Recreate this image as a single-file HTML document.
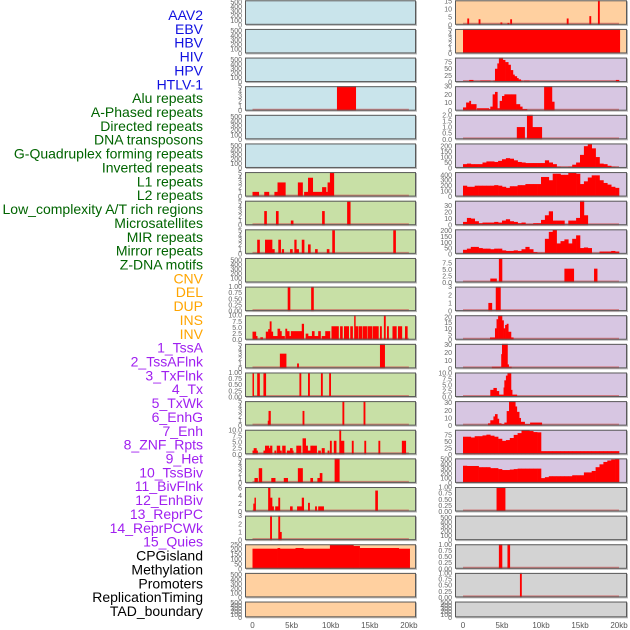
<!DOCTYPE html>
<html><head><meta charset="utf-8"><title>Track panels</title>
<style>
html,body{margin:0;padding:0;background:#fff;}
svg{display:block;font-family:"Liberation Sans",sans-serif;}
</style></head>
<body>
<svg id="chart" width="630" height="630" viewBox="0 0 630 630" xmlns="http://www.w3.org/2000/svg"></svg>
<script>
// ---------- category labels ----------
const trackLabels = ["AAV2","EBV","HBV","HIV","HPV","HTLV-1","Alu repeats","A-Phased repeats","Directed repeats","DNA transposons","G-Quadruplex forming repeats","Inverted repeats","L1 repeats","L2 repeats","Low_complexity A/T rich regions","Microsatellites","MIR repeats","Mirror repeats","Z-DNA motifs","CNV","DEL","DUP","INS","INV","1_TssA","2_TssAFlnk","3_TxFlnk","4_Tx","5_TxWk","6_EnhG","7_Enh","8_ZNF_Rpts","9_Het","10_TssBiv","11_BivFlnk","12_EnhBiv","13_ReprPC","14_ReprPCWk","15_Quies","CPGisland","Methylation","Promoters","ReplicationTiming","TAD_boundary"];
const labelGroups = ["v","v","v","v","v","v","r","r","r","r","r","r","r","r","r","r","r","r","r","s","s","s","s","s","c","c","c","c","c","c","c","c","c","c","c","c","c","c","c","o","o","o","o","o"];
const xTickLabels = ["0","5kb","10kb","15kb","20kb"];
const xTickValues = [0,5,10,15,20];

// ---------- tick label sets ----------
const tEmpty = ["0","100","200","300","400","500"];
const t5 = ["0","1","2","3","4","5"];
const t1 = ["0.00","0.25","0.50","0.75","1.00"];
const t10 = ["0.0","2.5","5.0","7.5","10.0"];

// ---------- left column data: [startKb, endKb, value] ----------
const L3_bars = [[10.8,13.2,5]];
const L6_bars = [[0,0.8,1],[1.5,2.1,1],[2.8,3.2,1],[3.2,4.2,3],[5.8,6.4,3],[6.6,7.1,1],[7.1,7.7,4],[7.7,8.9,1],[8.9,9.4,2],[9.4,9.6,1],[9.6,9.9,3],[9.9,10.4,5]];
const L7_bars = [[1.5,1.8,3],[3.0,3.3,3],[4.9,5.2,1],[8.9,9.2,3],[12.1,12.5,5]];
const L8_bars = [[0.6,0.9,3],[1.6,2.5,3],[2.5,2.8,1],[3.3,3.6,3],[3.75,4.0,1],[4.8,5.1,1],[5.35,5.6,3],[5.6,5.9,1],[6.3,6.6,3],[7.1,7.4,2],[8.0,8.3,1],[9.5,9.8,1],[10.2,10.5,5],[18.0,18.3,5]];
const L10_bars = [[4.5,4.8,1],[7.5,7.8,1]];
const L11_bars = [[0,0.43,3.3],[0.43,0.6,1.5],[1.0,1.3,1],[1.7,2.0,3.3],[2.0,2.2,4.3],[2.2,2.4,7.5],[2.4,2.6,3.3],[2.6,3.2,1.5],[3.2,3.5,4.5],[3.5,3.7,3.5],[3.7,4.1,1.5],[4.2,4.4,4.5],[4.4,4.7,3.5],[4.7,4.9,1.5],[4.9,6.3,3.5],[6.3,6.55,6.5],[6.8,7.1,2.5],[7.1,7.6,1.5],[7.6,7.9,3.5],[7.9,8.4,1.5],[8.4,8.7,3.5],[8.85,9.3,1.5],[9.3,9.9,3.5],[10.1,11.0,5.5],[11.2,11.5,5.5],[11.7,12.3,5.5],[12.5,12.8,5.5],[13.0,13.15,10],[13.15,13.5,5.5],[13.6,14.0,5.5],[14.1,14.6,5.5],[14.7,15.3,5.5],[15.4,16.1,5.5],[16.3,16.5,5.5],[16.8,17.0,10],[17.2,17.4,5.5],[17.9,18.4,5.5],[18.6,19.1,5.5],[19.5,19.8,5.5]];
const L12_bars = [[3.5,4.3,3],[5.7,5.9,1],[16.3,16.9,5]];
const L13_bars = [[0,0.15,1],[0.6,0.9,1],[1.4,1.7,1],[6.0,6.2,1],[7.1,7.3,1],[8.75,8.95,1],[9.8,10.0,1]];
const L14_bars = [[1.95,2.05,1],[2.05,2.3,3],[6.4,6.6,3],[11.5,11.7,5],[14.2,14.4,5]];
const L15_bars = [[0,0.15,1.5],[0.15,0.5,2.5],[0.5,0.65,1.5],[1.4,1.6,1.5],[1.6,2.1,3.5],[2.1,2.25,2.5],[2.25,2.5,3.5],[2.8,3.0,1.5],[3.1,3.5,3.5],[3.5,3.7,1.5],[3.8,4.2,3.5],[4.4,4.8,1.5],[4.8,5.1,2.5],[5.1,5.2,1.5],[5.6,5.9,3.5],[5.9,6.2,3.5],[6.4,6.8,6.5],[6.8,7.05,3.5],[7.05,7.4,1.5],[7.4,7.7,3.5],[7.7,8.2,3.5],[8.4,8.7,1.5],[8.85,9.2,2.5],[9.6,9.8,1.5],[9.9,10.1,5.5],[10.4,10.7,5.5],[11.1,11.3,10],[11.3,11.7,5.5],[12.7,12.9,5.5],[14.3,14.5,5.5],[16.1,16.3,5.5],[19.1,19.6,5.5]];
const L16_bars = [[0.25,0.65,1],[0.8,1.2,3],[2.4,2.9,1],[4.0,4.5,1],[5.8,6.4,3],[7.4,7.7,1],[8.3,8.6,1],[8.6,8.9,2],[10.5,11.1,5]];
const L17_bars = [[0.1,0.25,2],[0.25,0.4,3.5],[2.0,2.25,6],[2.25,2.5,3.5],[2.5,2.7,1.3],[2.9,3.3,1.3],[3.3,3.5,3.5],[4.8,5.1,1.3],[5.7,6.3,1.3],[6.3,6.55,3.5],[7.1,7.3,2.2],[8.0,8.2,1.3],[8.4,9.1,1.3],[15.7,16.0,5.3]];
const L18_bars = [[2.25,2.45,3],[3.3,3.5,3],[3.5,3.7,1]];
const L19_bars = [[0,3.2,205],[3.2,3.5,212],[3.5,5.5,205],[5.5,6.5,212],[6.5,9.9,205],[9.9,12.9,245],[12.9,13.7,232],[13.7,18.7,212],[18.7,20.1,205]];

// ---------- right column data ----------
const R0_bars = [[0.55,0.75,4],[2.0,2.2,3.5],[4.8,5.0,1.5],[5.7,5.9,1.2],[6.05,6.25,3.5],[13.3,13.5,4],[16.2,16.4,5.5],[17.3,17.5,15.5]];
const R1_bars = [[0,20.1,5]];
const R2_bars = [[0.8,1.3,8],[2.2,3.5,5],[3.9,4.1,5],[4.1,4.4,50],[4.4,4.6,70],[4.6,5.1,92],[5.1,5.4,83],[5.4,5.8,75],[5.8,6.1,65],[6.1,6.4,45],[6.4,6.6,28],[6.6,6.9,22],[6.9,7.1,15],[7.1,7.4,10],[7.4,7.6,5],[7.8,8.5,5],[19.6,20.0,8]];
const R3_bars = [[0,0.4,4],[0.4,0.8,10],[0.8,1.0,12],[1.0,1.7,8],[1.8,3.3,3],[3.3,3.5,2],[3.5,3.8,5],[3.8,4.1,20],[4.1,4.4,23],[4.4,4.7,3],[4.7,5.0,12],[5.0,5.3,18],[5.3,6.2,20],[6.2,6.8,20],[6.8,7.3,8],[7.3,7.6,5],[7.6,8.2,2],[10.4,11.4,30],[11.4,11.7,11]];
const R4_bars = [[6.9,7.9,1],[8.2,8.9,2],[8.9,10.1,1]];
const R5_bins = [35,40,35,35,35,50,60,60,55,65,80,90,85,70,55,50,45,45,45,45,45,70,50,35,10,0,0,10,30,50,120,200,220,180,100,40,35,20,10,0];
const R6_bins = [200,180,180,200,200,200,200,200,210,200,180,160,190,190,210,210,230,230,230,230,360,360,300,420,420,400,400,440,440,420,230,280,350,390,390,300,250,220,180,160];
const R7_bins = [5,11,10,6,3,4,4,4,5,4,7,9,6,5,3,4,2,2,3,3,8,15,21,7,7,7,0,7,7,11,37,15,0,0,0,0,0,0,0,0];
const R8_bins = [35,45,60,60,50,45,45,40,45,45,30,25,25,30,25,40,60,40,15,10,10,130,190,210,90,110,125,90,130,160,50,55,50,0,0,20,20,20,25,20];
const R9_bars = [[3.5,4.3,1.5],[4.6,5.0,9.4],[13.0,14.2,5.3],[16.8,17.2,5.3]];
const R10_bars = [[3.25,3.7,1],[4.2,4.8,3]];
const R11_bars = [[3.46,4.1,2],[4.1,4.3,10],[4.3,4.5,18],[4.5,5.0,21.5],[5.0,5.2,17],[5.2,5.4,10],[5.4,5.6,13],[5.6,5.8,14],[5.8,6.15,7],[6.15,6.45,2]];
const R12_bars = [[3.7,4.9,2],[4.9,5.0,18],[5.0,5.7,31],[5.7,5.85,5],[5.85,6.2,2]];
const R13_bars = [[3.5,3.9,3],[3.9,4.3,3.8],[4.3,4.6,2.5],[4.6,5.2,1],[5.2,5.3,4],[5.3,5.5,7],[5.5,5.7,9],[5.7,6.15,10.3],[6.15,6.3,3],[6.3,6.9,1]];
const R14_bars = [[3.2,3.5,3],[3.5,3.9,7],[3.9,4.1,12],[4.1,4.4,15],[4.4,4.6,9],[4.6,4.9,3],[4.9,5.3,2],[5.3,5.6,4],[5.6,5.9,19],[5.9,6.7,32],[6.7,6.9,25],[6.9,7.2,18],[7.2,7.4,10],[7.4,7.9,5],[7.9,8.6,2],[8.6,10.1,4]];
const R15_bins = [68,68,65,70,70,73,76,72,68,60,52,55,63,75,82,93,93,90,86,85,12,12,12,12,12,12,12,12,12,12,12,12,12,12,12,12,12,12,12,12];
const R16_bins = [360,355,355,355,330,330,330,310,310,290,270,270,280,290,300,300,300,300,300,300,100,120,140,140,140,140,140,140,160,160,160,220,220,250,330,390,440,470,490,510];
const R17_bars = [[4.3,5.4,1]];
const R19_bars = [[4.6,5.0,1],[5.7,6.0,1]];
const R20_bars = [[7.3,7.5,1]];

// ---------- panel configuration (styling) ----------
const C_BLUE="#c9e4eb", C_GREEN="#c8e0a6", C_ORANGE="#ffd0a0", C_PURPLE="#d7c6e2", C_GRAY="#d3d3d3";
const panels = [
 {c:0,r:0,bg:C_BLUE,t:tEmpty,ymax:540,d:null,n:"aav2-left"},
 {c:0,r:1,bg:C_BLUE,t:tEmpty,ymax:540,d:null,n:"ebv-left"},
 {c:0,r:2,bg:C_BLUE,t:tEmpty,ymax:540,d:null,n:"hbv-left"},
 {c:0,r:3,bg:C_BLUE,t:t5,ymax:5,d:L3_bars,n:"alu-left"},
 {c:0,r:4,bg:C_BLUE,t:tEmpty,ymax:540,d:null,n:"hpv-left"},
 {c:0,r:5,bg:C_BLUE,t:tEmpty,ymax:540,d:null,n:"htlv-left"},
 {c:0,r:6,bg:C_GREEN,t:t5,ymax:5.2,d:L6_bars,n:"l1-left"},
 {c:0,r:7,bg:C_GREEN,t:t5,ymax:5.2,d:L7_bars,n:"aphased-left"},
 {c:0,r:8,bg:C_GREEN,t:t5,ymax:5.2,d:L8_bars,n:"directed-left"},
 {c:0,r:9,bg:C_GREEN,t:tEmpty,ymax:540,d:null,n:"dna-transposons-left"},
 {c:0,r:10,bg:C_GREEN,t:t1,ymax:1,d:L10_bars,n:"gquad-left"},
 {c:0,r:11,bg:C_GREEN,t:t10,ymax:10,d:L11_bars,n:"inverted-left"},
 {c:0,r:12,bg:C_GREEN,t:t5,ymax:5,d:L12_bars,n:"l2-left"},
 {c:0,r:13,bg:C_GREEN,t:t1,ymax:1,d:L13_bars,n:"lowcomplex-left"},
 {c:0,r:14,bg:C_GREEN,t:t5,ymax:5,d:L14_bars,n:"microsat-left"},
 {c:0,r:15,bg:C_GREEN,t:t10,ymax:10,d:L15_bars,n:"mir-left"},
 {c:0,r:16,bg:C_GREEN,t:t5,ymax:5,d:L16_bars,n:"mirror-left"},
 {c:0,r:17,bg:C_GREEN,t:["0","2","4","6"],ymax:6.2,d:L17_bars,n:"zdna-left"},
 {c:0,r:18,bg:C_GREEN,t:["0","1","2","3"],ymax:3,d:L18_bars,n:"cnv-left"},
 {c:0,r:19,bg:C_ORANGE,t:["0","50","100","150","200","250"],ymax:250,d:L19_bars,n:"cpg-left",nobase:true},
 {c:0,r:20,bg:C_ORANGE,t:tEmpty,ymax:540,d:null,n:"promoters-left"},
 {c:0,r:21,bg:C_ORANGE,t:tEmpty,ymax:540,d:null,n:"tad-left"},
 {c:1,r:0,bg:C_ORANGE,t:["0","5","10","15"],ymax:15.5,d:R0_bars,n:"aav2-right"},
 {c:1,r:1,bg:C_ORANGE,t:t5,ymax:5,d:R1_bars,n:"ebv-right",nobase:true},
 {c:1,r:2,bg:C_PURPLE,t:["0","25","50","75"],ymax:92,d:R2_bars,n:"tssa-right"},
 {c:1,r:3,bg:C_PURPLE,t:["0","10","20","30"],ymax:30,d:R3_bars,n:"tssaflnk-right"},
 {c:1,r:4,bg:C_PURPLE,t:["0.0","0.5","1.0","1.5","2.0"],ymax:2,d:R4_bars,n:"txflnk-right"},
 {c:1,r:5,bg:C_PURPLE,b:R5_bins,t:["0","50","100","150","200"],ymax:225,n:"tx-right"},
 {c:1,r:6,bg:C_PURPLE,b:R6_bins,t:["0","100","200","300","400"],ymax:450,n:"txwk-right"},
 {c:1,r:7,bg:C_PURPLE,b:R7_bins,t:["0","10","20","30"],ymax:37,n:"enhg-right"},
 {c:1,r:8,bg:C_PURPLE,b:R8_bins,t:["0","50","100","150","200"],ymax:212,n:"enh-right"},
 {c:1,r:9,bg:C_PURPLE,t:["0.0","2.5","5.0","7.5"],ymax:9.4,d:R9_bars,n:"znf-right"},
 {c:1,r:10,bg:C_PURPLE,t:["0","1","2","3"],ymax:3,d:R10_bars,n:"het-right"},
 {c:1,r:11,bg:C_PURPLE,t:["0","5","10","15","20"],ymax:21.5,d:R11_bars,n:"tssbiv-right"},
 {c:1,r:12,bg:C_PURPLE,t:["0","10","20","30"],ymax:31,d:R12_bars,n:"bivflnk-right"},
 {c:1,r:13,bg:C_PURPLE,t:t10,ymax:10.3,d:R13_bars,n:"enhbiv-right"},
 {c:1,r:14,bg:C_PURPLE,t:["0","10","20","30"],ymax:32,d:R14_bars,n:"reprpc-right"},
 {c:1,r:15,bg:C_PURPLE,b:R15_bins,t:["0","25","50","75"],ymax:95,n:"reprpcwk-right"},
 {c:1,r:16,bg:C_PURPLE,b:R16_bins,t:["0","100","200","300","400","500"],ymax:515,n:"quies-right"},
 {c:1,r:17,bg:C_GRAY,t:t1,ymax:1,d:R17_bars,n:"cpg-right"},
 {c:1,r:18,bg:C_GRAY,t:tEmpty,ymax:540,d:null,n:"methylation-right"},
 {c:1,r:19,bg:C_GRAY,t:t1,ymax:1,d:R19_bars,n:"promoters-right"},
 {c:1,r:20,bg:C_GRAY,t:t1,ymax:1,d:R20_bars,n:"replication-right"},
 {c:1,r:21,bg:C_GRAY,t:tEmpty,ymax:540,d:null,n:"tad-right"}
];

// ---------- drawing ----------
const NS = "http://www.w3.org/2000/svg";
const svg = document.getElementById("chart");
const colX0 = [245, 455], colX1 = [416, 627];
const zeroX = [252.5, 463], pxPerKb = [7.82, 7.8];
function xScale(c, kb){ return zeroX[c] + kb*pxPerKb[c]; }
function rowTop(r){ return 0.3 + 28.63*r; }
function rowH(r){ return r===21 ? 15.8 : 24.5; }
function yScale(p, v){ const top=rowTop(p.r), h=rowH(p.r); return top + h - (v/p.ymax)*h; }
function mk(tag){ return document.createElementNS(NS, tag); }

const groupColor = {v:"#1010e0", r:"#006400", s:"#ffa500", c:"#a020f0", o:"#000000"};
trackLabels.forEach((lab, i) => {
  const t = mk("text");
  
  
  t.setAttribute("x", 203);
  t.setAttribute("y", 15 + 13.86*i + 5);
  t.setAttribute("text-anchor", "end");
  t.setAttribute("font-size", "14");
  t.setAttribute("fill", groupColor[labelGroups[i]]);
  t.textContent = lab;
  svg.appendChild(t);
});

panels.forEach(p => {
  const g = mk("g");
  
  
  svg.appendChild(g);
  const x0 = colX0[p.c], x1 = colX1[p.c], top = rowTop(p.r), h = rowH(p.r);
  const shadow = mk("rect");
  
  
  shadow.setAttribute("x", x0+1); shadow.setAttribute("y", top+1);
  shadow.setAttribute("width", x1-x0); shadow.setAttribute("height", h);
  shadow.setAttribute("fill", "#b8b8b8");
  g.appendChild(shadow);
  const bg = mk("rect");
  
  
  bg.setAttribute("x", x0); bg.setAttribute("y", top);
  bg.setAttribute("width", x1-x0); bg.setAttribute("height", h);
  bg.setAttribute("fill", p.bg);
  g.appendChild(bg);

  let bars = [];
  if (p.d) bars = p.d;
  if (p.b) bars = p.b.map((v,i) => [i*0.5, i*0.5+0.5, v]);
  if (p.d || p.b) {
    if (!p.nobase) {
      const base = mk("line");
      
      
      base.setAttribute("x1", xScale(p.c,0)); base.setAttribute("x2", xScale(p.c,20));
      base.setAttribute("y1", top+h-1); base.setAttribute("y2", top+h-1);
      base.setAttribute("stroke", "rgba(205,80,80,0.65)"); base.setAttribute("stroke-width", "2");
      g.appendChild(base);
    }
    bars.forEach(b => {
      if (b[2] <= 0) return;
      const r = mk("rect");
      
      
      const xa = xScale(p.c, b[0]), xb = xScale(p.c, b[1]);
      const yv = Math.max(top, yScale(p, b[2]));
      r.setAttribute("x", xa);
      r.setAttribute("width", Math.max(1.2, xb-xa+0.3));
      r.setAttribute("y", yv);
      r.setAttribute("height", top+h-yv);
      r.setAttribute("fill", "#ff0000");
      g.appendChild(r);
    });
  }
  const border = mk("rect");
  
  
  border.setAttribute("x", x0+0.5); border.setAttribute("y", top+0.5);
  border.setAttribute("width", x1-x0-1); border.setAttribute("height", h-1);
  border.setAttribute("fill", "none"); border.setAttribute("stroke", "#5a5a5a"); border.setAttribute("stroke-width", "1");
  g.appendChild(border);

  p.t.forEach(lbl => {
    const v = parseFloat(lbl);
    const t = mk("text");
    
    
    t.setAttribute("x", x0-3);
    t.setAttribute("y", yScale(p, v) + 2.5);
    t.setAttribute("text-anchor", "end");
    t.setAttribute("font-size", "7");
    t.setAttribute("fill", "#666");
    t.textContent = lbl;
    g.appendChild(t);
  });
});

[0,1].forEach(c => {
  xTickValues.forEach((v, i) => {
    const t = mk("text");
    
    
    t.setAttribute("x", xScale(c, v));
    t.setAttribute("y", 628);
    t.setAttribute("text-anchor", "middle");
    t.setAttribute("font-size", "8");
    t.setAttribute("fill", "#555");
    t.textContent = xTickLabels[i];
    svg.appendChild(t);
  });
});
</script>
</body></html>
